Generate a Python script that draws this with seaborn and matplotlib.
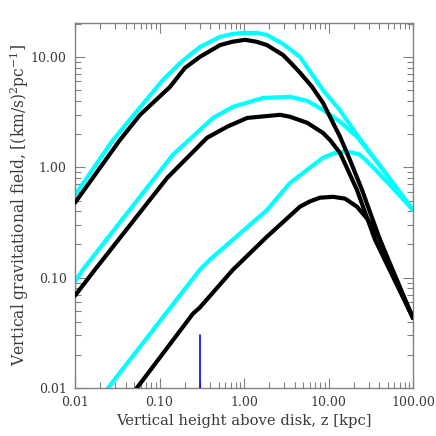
import matplotlib
matplotlib.use("Agg")
import matplotlib.pyplot as plt
import seaborn as sns
from matplotlib.ticker import LogLocator, FormatStrFormatter, NullFormatter

# ---- data ----
z_b1 = [0.01, 0.0341, 0.0587, 0.133, 0.200, 0.30, 0.52, 0.72, 1.03, 1.42, 1.87, 2.9, 3.5, 4.6, 6.4, 8.6, 10.7, 13.7, 17.9, 24.9, 40.6, 100]
g_b1 = [0.478, 1.77, 2.98, 5.35, 7.95, 10.0, 12.8, 13.7, 14.3, 13.7, 12.8, 10.4, 9.0, 7.2, 5.35, 3.84, 2.75, 1.89, 1.17, 0.625, 0.221, 0.043]

z_c1 = [0.01, 0.0282, 0.110, 0.175, 0.30, 0.52, 0.72, 0.97, 1.42, 1.87, 2.9, 4.6, 8.6, 13.7, 21.7, 37.5, 100]
g_c1 = [0.56, 1.77, 6.2, 8.8, 12.3, 15.2, 16.1, 16.5, 16.5, 15.8, 13.1, 10.0, 5.0, 3.28, 1.97, 1.12, 0.41]

z_b2 = [0.01, 0.0172, 0.123, 0.365, 0.63, 1.09, 2.67, 3.5, 5.6, 8.6, 10.4, 13.7, 21.7, 35.5, 100]
g_b2 = [0.0687, 0.118, 0.80, 1.85, 2.33, 2.80, 2.99, 2.87, 2.53, 2.05, 1.77, 1.35, 0.625, 0.221, 0.043]

z_c2 = [0.01, 0.0124, 0.144, 0.43, 0.74, 1.68, 3.5, 5.6, 8.6, 13.7, 21.7, 37.5, 100]
g_c2 = [0.092, 0.118, 1.30, 2.80, 3.53, 4.25, 4.35, 4.0, 3.31, 2.58, 1.89, 1.12, 0.41]

z_b3 = [0.054, 0.249, 0.30, 0.74, 1.87, 4.6, 6.0, 7.9, 11.3, 15.7, 21.7, 29.3, 40.6, 53.5, 100]
g_b3 = [0.01, 0.0472, 0.0536, 0.118, 0.235, 0.44, 0.49, 0.53, 0.54, 0.52, 0.44, 0.335, 0.221, 0.126, 0.043]

z_c3 = [0.0246, 0.30, 0.396, 0.74, 1.87, 3.5, 5.6, 8.6, 11.3, 14.9, 19.0, 23.6, 33.6, 53.5, 100]
g_c3 = [0.01, 0.118, 0.146, 0.221, 0.41, 0.72, 0.95, 1.22, 1.33, 1.38, 1.36, 1.30, 1.0, 0.69, 0.41]

z_mark = [0.3, 0.3]
g_mark = [0.01, 0.03]

x_ticks = [0.01, 0.1, 1, 10, 100]
y_ticks = [0.01, 0.1, 1, 10]

xlabel = "Vertical height above disk, z [kpc]"
ylabel = r"Vertical gravitational field, [(km/s)$^2$pc$^{-1}$]"

# ---- style ----
sns.set_style("ticks")
plt.rcParams["font.family"] = ["DejaVu Serif"]
plt.rcParams["mathtext.fontset"] = "dejavuserif"

fig = plt.figure(figsize=(4.36, 4.36), dpi=100)
ax = fig.add_axes([75 / 436, 48 / 436, 338 / 436, 365 / 436])

for z, g in [(z_b1, g_b1), (z_b2, g_b2), (z_b3, g_b3)]:
    sns.lineplot(x=z, y=g, ax=ax, color="black", lw=3, estimator=None, sort=False, zorder=3)
for z, g in [(z_c1, g_c1), (z_c2, g_c2), (z_c3, g_c3)]:
    sns.lineplot(x=z, y=g, ax=ax, color="#00FFFF", lw=3, estimator=None, sort=False, zorder=2)
sns.lineplot(x=z_mark, y=g_mark, ax=ax, color="#0000FF", lw=1.2, estimator=None, sort=False, zorder=4)

ax.set_xscale("log")
ax.set_yscale("log")
ax.set_xlim(0.01, 100)
ax.set_ylim(0.01, 20.3)

ax.xaxis.set_minor_locator(LogLocator(base=10, subs=range(2, 10)))
ax.yaxis.set_minor_locator(LogLocator(base=10, subs=range(2, 10)))
ax.set_xticks(x_ticks)
ax.set_yticks(y_ticks)
ax.xaxis.set_major_formatter(FormatStrFormatter("%.2f"))
ax.yaxis.set_major_formatter(FormatStrFormatter("%.2f"))
ax.xaxis.set_minor_formatter(NullFormatter())
ax.yaxis.set_minor_formatter(NullFormatter())

grey = "#808080"
for s in ax.spines.values():
    s.set_color(grey)
    s.set_linewidth(1.0)
    s.set_visible(True)
ax.tick_params(which="major", direction="in", length=7, width=0.8, color=grey,
               top=True, right=True, labelcolor="#3a3a3a", labelsize=9, pad=6)
ax.tick_params(which="minor", direction="in", length=4, width=0.8, color=grey,
               top=True, right=True)

ax.set_xlabel(xlabel, fontsize=10.6, color="#3a3a3a", labelpad=3)
ax.set_ylabel(ylabel, fontsize=11.2, color="#3a3a3a", labelpad=-0.5)

fig.savefig("out.png", dpi=100, facecolor="white")
